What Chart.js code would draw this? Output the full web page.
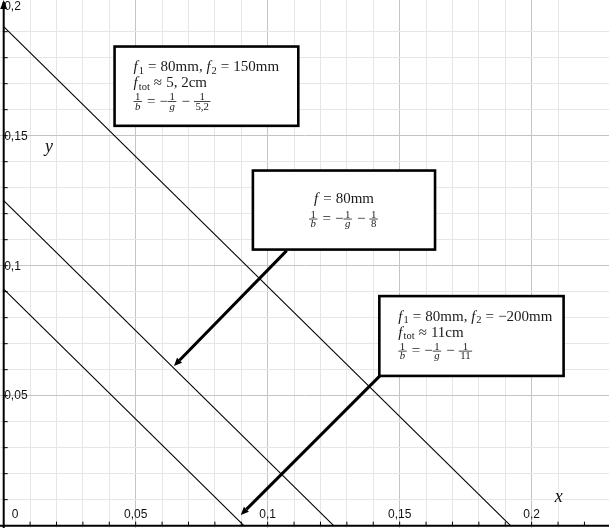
<!DOCTYPE html>
<html>
<head>
<meta charset="utf-8">
<script src="https://cdn.jsdelivr.net/npm/chart.js@4.4.0/dist/chart.umd.min.js"></script>
<style>
  html, body { margin: 0; padding: 0; background: #fff; }
  canvas { display: block; }
</style>
</head>
<body>
<canvas id="c" width="609" height="528"></canvas>
<script>
// three lens setups, lines 1/b = -1/g - 1/f  (axes: x = 1/g, y = -1/b)
const caseNames = ['f1=80mm, f2=150mm', 'f=80mm', 'f1=80mm, f2=-200mm'];
const yIntercepts = [0.192, 0.125, 0.091];
const xIntercepts = [0.192, 0.125, 0.091];

const xTickValues = [0, 0.05, 0.1, 0.15, 0.2];
const xTickLabels = ['0', '0,05', '0,1', '0,15', '0,2'];
const yTickValues = [0.05, 0.1, 0.15, 0.2];
const yTickLabels = ['0,05', '0,1', '0,15', '0,2'];

const SERIF = '"Liberation Serif", "DejaVu Serif", serif';
const SANS = '"Liberation Sans", Arial, sans-serif';
const MSIZE = 15;

// annotation boxes (data coords of the frame) and their formula lines
const notes = [
    {
        box: [0.0420, 0.1843, 0.1116, 0.1538], center: false,
        lines: [
            [{i: 'f'}, {sub: '1'}, {op: '='}, {r: '80mm, '}, {i: 'f'}, {sub: '2'}, {op: '='}, {r: '150mm'}],
            [{i: 'f'}, {sub: 'tot'}, {op: '≈'}, {r: '5, 2cm'}],
            [{frac: ['1', 'b']}, {op: '='}, {r: '−'}, {frac: ['1', 'g']}, {op: '−'}, {frac: ['1', '5,2'], rd: true}]
        ]
    },
    {
        box: [0.0944, 0.1366, 0.1634, 0.1062], center: true,
        lines: [
            [{i: 'f'}, {op: '='}, {r: '80mm'}],
            [{frac: ['1', 'b']}, {op: '='}, {r: '−'}, {frac: ['1', 'g']}, {op: '−'}, {frac: ['1', '8'], rd: true}]
        ]
    },
    {
        box: [0.1423, 0.0883, 0.2121, 0.0576], center: false,
        lines: [
            [{i: 'f'}, {sub: '1'}, {op: '='}, {r: '80mm, '}, {i: 'f'}, {sub: '2'}, {op: '='}, {r: '−200mm'}],
            [{i: 'f'}, {sub: 'tot'}, {op: '≈'}, {r: '11cm'}],
            [{frac: ['1', 'b']}, {op: '='}, {r: '−'}, {frac: ['1', 'g']}, {op: '−'}, {frac: ['1', '11'], rd: true}]
        ]
    }
];

// arrows from box 2 and box 3 to their lines
const arrows = [
    [0.1072, 0.1058, 0.0645, 0.0614],
    [0.1425, 0.0576, 0.0898, 0.0041]
];

function onStep(v) {
    return Math.abs(v * 100 - Math.round(v * 100)) < 1e-6;
}
function gridColor(ctx) {
    const v = ctx.tick.value;
    if (!onStep(v)) return 'rgba(0,0,0,0)';
    return Math.round(v * 100) % 5 === 0 ? '#c4c4c4' : '#e6e6e6';
}

function font(style, size, fam) {
    return `${style ? style + ' ' : ''}${size}px ${fam}`;
}

// draw (or just measure) one line of simple math
function mathLine(ctx, line, x, y, size, draw) {
    let cx = x;
    const gap = size * 0.27;
    for (const t of line) {
        if (t.i !== undefined || t.r !== undefined) {
            const txt = t.i !== undefined ? t.i : t.r;
            ctx.font = font(t.i !== undefined ? 'italic' : '', size, SERIF);
            if (draw) ctx.fillText(txt, cx, y);
            cx += ctx.measureText(txt).width + (t.i === 'f' ? 1 : 0);
        } else if (t.sub !== undefined) {
            ctx.font = font('', size * 0.7, SERIF);
            if (draw) ctx.fillText(t.sub, cx, y + size * 0.17);
            cx += ctx.measureText(t.sub).width;
        } else if (t.op !== undefined) {
            ctx.font = font('', size, SERIF);
            if (draw) ctx.fillText(t.op, cx + gap, y);
            cx += gap * 2 + ctx.measureText(t.op).width;
        } else if (t.frac) {
            const fs = size * 0.72;
            ctx.font = font('', fs, SERIF);
            const nw = ctx.measureText(t.frac[0]).width;
            ctx.font = font(t.rd ? '' : 'italic', fs, SERIF);
            const dw = ctx.measureText(t.frac[1]).width;
            const w = Math.max(nw, dw) + size * 0.2;
            const ay = y - size * 0.27;
            if (draw) {
                ctx.fillRect(cx, ay - 0.4, w, 0.8);
                ctx.font = font('', fs, SERIF);
                ctx.fillText(t.frac[0], cx + (w - nw) / 2, ay - 1.5);
                ctx.font = font(t.rd ? '' : 'italic', fs, SERIF);
                ctx.fillText(t.frac[1], cx + (w - dw) / 2, ay + fs * 0.68 + 1);
            }
            cx += w + 1;
        }
    }
    return cx - x;
}

function drawArrow(ctx, x0, y0, x1, y1) {
    const a = Math.atan2(y1 - y0, x1 - x0);
    const hl = 8, hw = 3.5;
    const bx = x1 - Math.cos(a) * hl, by = y1 - Math.sin(a) * hl;
    ctx.beginPath();
    ctx.moveTo(x0, y0);
    ctx.lineTo(bx, by);
    ctx.lineWidth = 3;
    ctx.stroke();
    ctx.beginPath();
    ctx.moveTo(x1, y1);
    ctx.lineTo(bx - Math.sin(a) * hw, by + Math.cos(a) * hw);
    ctx.lineTo(bx + Math.sin(a) * hw, by - Math.cos(a) * hw);
    ctx.closePath();
    ctx.fill();
}

const overlay = {
    id: 'overlay',
    afterDraw(chart) {
        const ctx = chart.ctx;
        const xs = chart.scales.x, ys = chart.scales.y;
        const X = v => xs.getPixelForValue(v);
        const Y = v => ys.getPixelForValue(v);
        const x0 = X(0), y0 = Y(0);
        ctx.save();
        ctx.fillStyle = '#000';
        ctx.strokeStyle = '#000';

        // axes
        ctx.lineWidth = 2;
        ctx.beginPath();
        ctx.moveTo(x0, chart.height); ctx.lineTo(x0, 2);
        ctx.moveTo(0, y0); ctx.lineTo(chart.width, y0);
        ctx.stroke();
        ctx.beginPath();
        ctx.moveTo(x0, 0); ctx.lineTo(x0 - 3.5, 9); ctx.lineTo(x0 + 3.5, 9);
        ctx.closePath(); ctx.fill();

        // small ticks every 0.01
        ctx.lineWidth = 1;
        ctx.beginPath();
        for (let k = 1; k <= 22; k++) {
            const px = X(k / 100);
            ctx.moveTo(px, y0); ctx.lineTo(px, y0 - 4);
        }
        for (let k = 1; k <= 19; k++) {
            const py = Y(k / 100);
            ctx.moveTo(x0, py); ctx.lineTo(x0 + 4, py);
        }
        ctx.stroke();

        // tick labels
        ctx.font = font('', 12, SANS);
        ctx.fillStyle = '#111';
        ctx.textBaseline = 'middle';
        ctx.textAlign = 'left';
        yTickValues.forEach((v, i) => ctx.fillText(yTickLabels[i], x0 + 0.5, Y(v) + 0.5));
        ctx.textAlign = 'center';
        xTickValues.forEach((v, i) => {
            const px = v === 0 ? x0 + 11.5 : X(v);
            ctx.fillText(xTickLabels[i], px, y0 - 10.5);
        });

        // axis names
        ctx.font = font('italic', 18, SERIF);
        ctx.fillText('y', X(0.0172), Y(0.1457));
        ctx.fillText('x', X(0.2103), Y(0.0110));

        // boxes with formulas
        ctx.textAlign = 'left';
        ctx.textBaseline = 'alphabetic';
        notes.forEach(n => {
            const l = X(n.box[0]), t = Y(n.box[1]), r = X(n.box[2]), b = Y(n.box[3]);
            ctx.fillStyle = '#fff';
            ctx.fillRect(l, t, r - l, b - t);
            ctx.lineWidth = 2.6;
            ctx.strokeStyle = '#000';
            ctx.strokeRect(l, t, r - l, b - t);
            ctx.fillStyle = '#1a1a1a';
            const base = n.center ? [t + 32, t + 48.5 + MSIZE * 0.27] : [t + 24.5, t + 40.5, t + 55 + MSIZE * 0.27];
            n.lines.forEach((line, i) => {
                let tx = l + 19;
                if (n.center) {
                    const w = mathLine(ctx, line, 0, 0, MSIZE, false);
                    tx = (l + r) / 2 - w / 2;
                }
                mathLine(ctx, line, tx, base[i], MSIZE, true);
            });
        });

        // arrows
        ctx.fillStyle = '#000';
        ctx.strokeStyle = '#000';
        arrows.forEach(a => drawArrow(ctx, X(a[0]), Y(a[1]), X(a[2]), Y(a[3])));
        ctx.restore();
    }
};

new Chart(document.getElementById('c'), {
    type: 'line',
    data: {
        datasets: caseNames.map((name, i) => ({
            label: name,
            data: [{x: 0, y: yIntercepts[i]}, {x: xIntercepts[i], y: 0}],
            borderColor: '#000',
            borderWidth: 1.1,
            pointRadius: 0,
            fill: false
        }))
    },
    options: {
        responsive: false,
        animation: false,
        devicePixelRatio: 1,
        layout: { padding: 0 },
        plugins: { legend: { display: false }, tooltip: { enabled: false } },
        scales: {
            x: {
                type: 'linear', min: -0.0014, max: 0.2293,
                ticks: { display: false, stepSize: 0.01 },
                grid: { color: gridColor, drawTicks: false, lineWidth: 1 },
                border: { display: false }
            },
            y: {
                type: 'linear', min: -0.0009, max: 0.2022,
                ticks: { display: false, stepSize: 0.01 },
                grid: { color: gridColor, drawTicks: false, lineWidth: 1 },
                border: { display: false }
            }
        }
    },
    plugins: [overlay]
});
</script>
</body>
</html>
